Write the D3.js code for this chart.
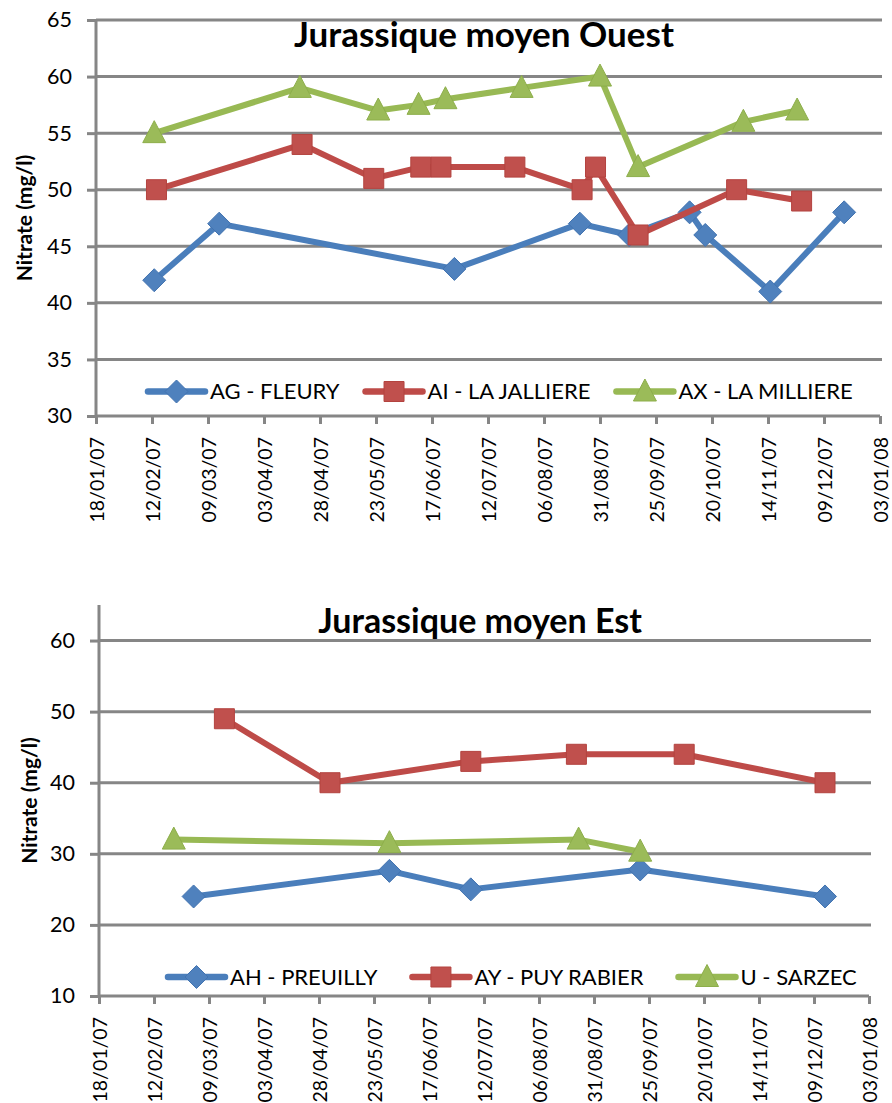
<!DOCTYPE html>
<html>
<head>
<meta charset="utf-8">
<script src="https://cdn.jsdelivr.net/npm/d3@7"></script>
<style>
  html, body { margin: 0; padding: 0; background: #ffffff; }
  svg { display: block; font-family: Lato, "Open Sans", sans-serif; }
</style>
</head>
<body>
<svg id="chart" width="892" height="1103"></svg>
<script>
// ---- Data -----------------------------------------------------------------
const xTickLabels = ["18/01/07","12/02/07","09/03/07","03/04/07","28/04/07","23/05/07","17/06/07",
                     "12/07/07","06/08/07","31/08/07","25/09/07","20/10/07","14/11/07","09/12/07","03/01/08"];

// Jurassique moyen Ouest
const titleOuest = "Jurassique moyen Ouest";
const yTicksOuest = [30, 35, 40, 45, 50, 55, 60, 65];
const agFleuryDates = ["13/02/2007","14/03/2007","27/06/2007","22/08/2007","13/09/2007","10/10/2007","17/10/2007","15/11/2007","18/12/2007"];
const agFleuryValues = [42, 47, 43, 47, 46, 48, 46, 41, 48];
const aiJalliereDates = ["14/02/2007","20/04/2007","22/05/2007","12/06/2007","21/06/2007","24/07/2007","23/08/2007","29/08/2007","17/09/2007","31/10/2007","29/11/2007"];
const aiJalliereValues = [50, 54, 51, 52, 52, 52, 50, 52, 46, 50, 49];
const axMilliereDates = ["13/02/2007","19/04/2007","24/05/2007","11/06/2007","23/06/2007","27/07/2007","31/08/2007","17/09/2007","03/11/2007","27/11/2007"];
const axMilliereValues = [55, 59, 57, 57.5, 58, 59, 60, 52, 56, 57];

// Jurassique moyen Est
const titleEst = "Jurassique moyen Est";
const yTicksEst = [10, 20, 30, 40, 50, 60];
const ahPreuillyDates = ["02/03/2007","30/05/2007","06/07/2007","21/09/2007","14/12/2007"];
const ahPreuillyValues = [24, 27.6, 25, 27.8, 24];
const ayPuyRabierDates = ["16/03/2007","03/05/2007","06/07/2007","23/08/2007","11/10/2007","14/12/2007"];
const ayPuyRabierValues = [49, 40, 43, 44, 44, 40];
const uSarzecDates = ["21/02/2007","30/05/2007","24/08/2007","21/09/2007"];
const uSarzecValues = [32, 31.5, 32, 30.3];

// ---- Styles ---------------------------------------------------------------
const parseDate = d3.utcParse("%d/%m/%Y");
const parseTick = d3.utcParse("%d/%m/%y");
const styles = {
  blue:  { line: "#4A7EBB", fill: "#4F81BD", stroke: "#4273B0", shape: "diamond" },
  red:   { line: "#BE4B48", fill: "#C0504D", stroke: "#B3433F", shape: "square" },
  green: { line: "#98B954", fill: "#9BBB59", stroke: "#8DAE4B", shape: "triangle" }
};
const shapePaths = {
  diamond:  "M0,-11.5L11.5,0L0,11.5L-11.5,0Z",
  square:   "M-10,-10H10V10H-10Z",
  triangle: "M0,-12.5L11.5,9.5L-11.5,9.5Z"
};
const gridColor = "#868686";

const svg = d3.select("#chart");
svg.append("rect").attr("width", 892).attr("height", 1103).attr("fill", "#fff");

function drawChart(cfg) {
  const g = svg.append("g");
  const tickDates = xTickLabels.map(parseTick);
  const x = d3.scaleUtc().domain([tickDates[0], tickDates[tickDates.length - 1]]).range([cfg.left, cfg.right]);
  const y = d3.scaleLinear().domain(cfg.yDomain).range([cfg.bottom, cfg.top]);

  // horizontal gridlines
  g.append("g").selectAll("line").data(cfg.yTicks.slice(1)).join("line")
    .attr("x1", cfg.left).attr("x2", cfg.right + 2)
    .attr("y1", d => y(d)).attr("y2", d => y(d))
    .attr("stroke", gridColor).attr("stroke-width", 3);

  // y axis
  const yAxis = g.append("g").attr("transform", `translate(${cfg.left},0)`)
    .call(d3.axisLeft(y).tickValues(cfg.yTicks).tickSize(9).tickPadding(15).tickFormat(d3.format("d")));
  yAxis.select(".domain").attr("d", `M0,${cfg.bottom}V${cfg.top}`).attr("stroke", gridColor).attr("stroke-width", 3);
  yAxis.selectAll(".tick line").attr("stroke", gridColor).attr("stroke-width", 3);
  yAxis.selectAll(".tick text").attr("font-size", 21.5).attr("fill", "#000").attr("font-family", "Lato");

  // x axis
  const xAxis = g.append("g").attr("transform", `translate(0,${cfg.bottom})`)
    .call(d3.axisBottom(x).tickValues(tickDates).tickSize(8).tickFormat(d3.utcFormat("%d/%m/%y")));
  xAxis.select(".domain").attr("d", `M${cfg.left},0H${cfg.right}`).attr("stroke", gridColor).attr("stroke-width", 3);
  xAxis.selectAll(".tick line").attr("stroke", gridColor).attr("stroke-width", 3);
  xAxis.selectAll(".tick text")
    .attr("font-size", 19.5).attr("fill", "#000").attr("font-family", "Lato")
    .attr("text-anchor", "end")
    .attr("transform", "rotate(-90)")
    .attr("x", -21).attr("y", 0).attr("dy", "0.36em");

  // title
  g.append("text").attr("x", cfg.titleX).attr("y", cfg.titleY)
    .attr("text-anchor", "middle").attr("font-weight", 700).attr("font-size", cfg.titleSize)
    .attr("font-family", "Lato").text(cfg.title);

  // y axis title
  g.append("text")
    .attr("transform", `translate(${cfg.yLabelX},${(cfg.top + cfg.bottom) / 2}) rotate(-90)`)
    .attr("text-anchor", "middle").attr("font-weight", 700).attr("font-size", 21)
    .attr("font-family", "Lato").text("Nitrate (mg/l)");

  // series
  const line = d3.line().x(d => x(d.date)).y(d => y(d.value));
  cfg.series.forEach(s => {
    const st = styles[s.color];
    const pts = s.dates.map((d, i) => ({ date: parseDate(d), value: s.values[i] }));
    const sg = g.append("g");
    sg.append("path").datum(pts).attr("d", line)
      .attr("fill", "none").attr("stroke", st.line).attr("stroke-width", 6)
      .attr("stroke-linejoin", "round").attr("stroke-linecap", "round");
    sg.selectAll("path.m").data(pts).join("path").attr("class", "m")
      .attr("d", shapePaths[st.shape])
      .attr("transform", d => `translate(${x(d.date)},${y(d.value)})`)
      .attr("fill", st.fill).attr("stroke", st.stroke).attr("stroke-width", 1)
      .attr("stroke-linejoin", "round");
  });

  // legend
  const lg = g.append("g").attr("transform", `translate(${cfg.legendX},${cfg.legendY})`);
  let cx = 0;
  cfg.series.forEach(s => {
    const st = styles[s.color];
    const item = lg.append("g").attr("transform", `translate(${cx},0)`);
    item.append("line").attr("x1", 0).attr("x2", 57).attr("y1", 0).attr("y2", 0)
      .attr("stroke", st.line).attr("stroke-width", 6.5).attr("stroke-linecap", "round");
    item.append("path").attr("d", shapePaths[st.shape]).attr("transform", "translate(28.5,0)")
      .attr("fill", st.fill).attr("stroke", st.stroke).attr("stroke-width", 1);
    const t = item.append("text").attr("x", 62).attr("y", 0).attr("dy", "0.36em")
      .attr("font-size", 22).attr("font-family", "Lato").attr("fill", "#000").text(s.name);
    cx += 62 + t.node().getComputedTextLength() + cfg.legendGap;
  });
}

drawChart({
  title: titleOuest, titleX: 484, titleY: 47, titleSize: 35,
  left: 96, right: 880, top: 20, bottom: 416,
  yDomain: [30, 65], yTicks: yTicksOuest, yLabelX: 32,
  legendX: 148, legendY: 391.5, legendGap: 26,
  series: [
    { name: "AG - FLEURY", color: "blue", dates: agFleuryDates, values: agFleuryValues },
    { name: "AI - LA JALLIERE", color: "red", dates: aiJalliereDates, values: aiJalliereValues },
    { name: "AX - LA MILLIERE", color: "green", dates: axMilliereDates, values: axMilliereValues }
  ]
});

drawChart({
  title: titleEst, titleX: 480, titleY: 633, titleSize: 34,
  left: 99, right: 869, top: 605, bottom: 996,
  yDomain: [10, 65], yTicks: yTicksEst, yLabelX: 37,
  legendX: 168, legendY: 977, legendGap: 35,
  series: [
    { name: "AH - PREUILLY", color: "blue", dates: ahPreuillyDates, values: ahPreuillyValues },
    { name: "AY - PUY RABIER", color: "red", dates: ayPuyRabierDates, values: ayPuyRabierValues },
    { name: "U - SARZEC", color: "green", dates: uSarzecDates, values: uSarzecValues }
  ]
});
</script>
</body>
</html>
